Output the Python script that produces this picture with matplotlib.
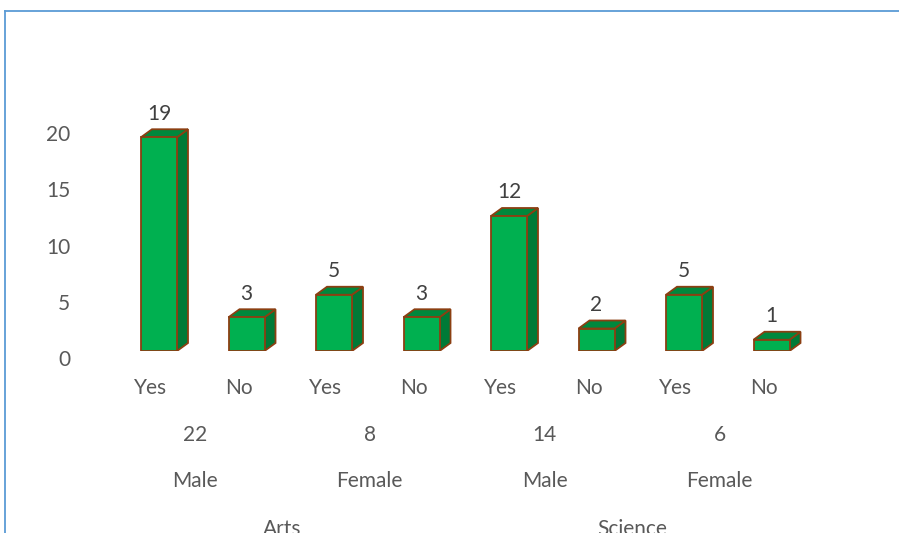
import matplotlib
matplotlib.use("Agg")
import matplotlib.pyplot as plt
from matplotlib.patches import Polygon
from matplotlib.lines import Line2D
from matplotlib.transforms import ScaledTranslation, blended_transform_factory

answers = ["Yes", "No", "Yes", "No", "Yes", "No", "Yes", "No"]
values = [19, 3, 5, 3, 12, 2, 5, 1]
totals = ["22", "8", "14", "6"]
genders = ["Male", "Female", "Male", "Female"]
streams = ["Arts", "Science"]
yticks = [0, 5, 10, 15, 20]

W, H = 899, 533
fig = plt.figure(figsize=(W / 100, H / 100), dpi=100)
plt.rcParams['font.family'] = ['Lato', 'DejaVu Sans']
FS = 15
GRAY = '#595959'

# axes: x -0.5..7.5 -> px 107.25..807.25 ; y 0..21 -> px 351..114.75
x0px, x1px = 107.25, 807.25
ybot, ytop = 351, 351 - 21 * 11.25
ax = fig.add_axes([x0px / W, 1 - ybot / H, (x1px - x0px) / W, (ybot - ytop) / H])
ax.set_xlim(-0.5, 7.5)
ax.set_ylim(0, 21)
for s in ax.spines.values():
    s.set_visible(False)
ax.set_xticks([])
ax.set_yticks(yticks)
ax.tick_params(axis='y', length=0, pad=37 * 0.72, labelsize=FS, labelcolor=GRAY)
off = ScaledTranslation(0, -7 / 100, fig.dpi_scale_trans)
for lab in ax.get_yticklabels():
    lab.set_transform(lab.get_transform() + off)

front = '#00B050'
side = '#007A37'
top = '#00883D'
edge = '#8B3F12'
width = 36 / 87.5
shift = 8 / 87.5
dx = 11 / 87.5
dy = 8 / 11.25

for i, v in enumerate(values):
    xa = i + shift - width / 2
    xb = xa + width
    ax.add_patch(Polygon([(xb, 0), (xb + dx, dy), (xb + dx, v + dy), (xb, v)],
                         closed=True, facecolor=side, edgecolor=edge, lw=1.3, zorder=2))
    ax.add_patch(Polygon([(xa, v), (xa + dx, v + dy), (xb + dx, v + dy), (xb, v)],
                         closed=True, facecolor=top, edgecolor=edge, lw=1.3, zorder=2))
    ax.bar(i + shift, v, width=width, color=front, edgecolor=edge, lw=1.3, zorder=3)
    ax.text(i + shift, v + dy + 1.4, str(v), ha='center', va='center',
            fontsize=FS, color='#404040', clip_on=False)

tr = blended_transform_factory(ax.transData, fig.transFigure)
for i, a in enumerate(answers):
    ax.text(i, 1 - 388 / H, a, transform=tr, ha='center', va='center', fontsize=FS, color=GRAY)
for j, t in enumerate(totals):
    ax.text(2 * j + 0.5, 1 - 435 / H, t, transform=tr, ha='center', va='center', fontsize=FS, color=GRAY)
for j, g in enumerate(genders):
    ax.text(2 * j + 0.5, 1 - 481 / H, g, transform=tr, ha='center', va='center', fontsize=FS, color=GRAY)
for k, s in enumerate(streams):
    ax.text(4 * k + 1.5, 1 - 529 / H, s, transform=tr, ha='center', va='center', fontsize=FS, color=GRAY)

fig.add_artist(Line2D([5 / W, 5 / W], [0, 1 - 11 / H], color='#5B9BD5', lw=1.3))
fig.add_artist(Line2D([5 / W, 1], [1 - 11 / H, 1 - 11 / H], color='#5B9BD5', lw=1.3))

fig.savefig("out.png", dpi=100)
